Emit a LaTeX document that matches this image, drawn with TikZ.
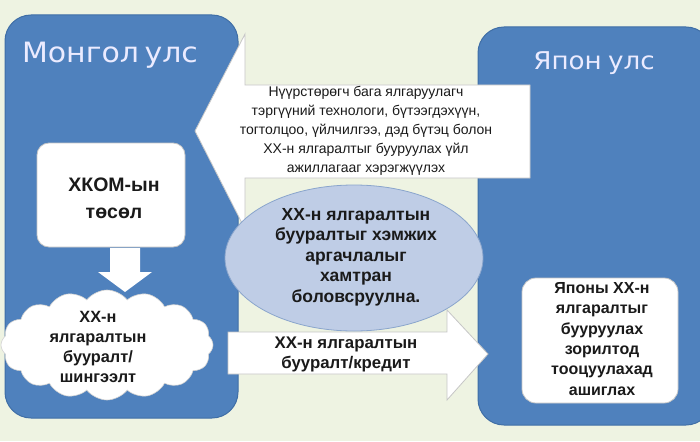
\documentclass[tikz,border=0pt]{standalone}
\usepackage{fontspec}
\setmainfont{Liberation Sans}
\newfontfamily\titlefont[FakeStretch=1.07]{DejaVu Sans}
\usetikzlibrary{shapes.symbols,shapes.geometric}
\definecolor{bgc}{HTML}{EEF3E2}
\definecolor{blu}{HTML}{4F81BD}
\definecolor{bluedge}{HTML}{3F6EA6}
\definecolor{ellf}{HTML}{BFCDE6}
\definecolor{elld}{HTML}{8AA5CC}
\definecolor{txt}{HTML}{1A1A1A}
\tikzset{
  country/.style={fill=blu, draw=bluedge, line width=1pt, rounded corners=26pt},
  whiteshape/.style={fill=white, draw=gray!45, line width=0.8pt},
  title/.style={text=white!92!blue, inner sep=0pt},
  plain/.style={align=center, text=txt, font=\fontsize{14}{19}\selectfont},
  boldtxt/.style={align=center, text=txt, inner sep=0pt},
}
\begin{document}
\begin{tikzpicture}[x=1pt,y=-1pt]
\useasboundingbox (0,0) rectangle (700,441);
\fill[bgc] (0,0) rectangle (700,441);
% countries
\draw[country] (5,15) rectangle (238,418);
\draw[country] (478,27) rectangle (712,425);
\node[title, font=\titlefont\fontsize{28}{32}\selectfont] (mn) at (110,55) {Монгол\hspace{0.2em}улс};
\node[title, font=\titlefont\fontsize{24.5}{30}\selectfont] (jp) at (594,63) {Япон\hspace{0.25em}улс};
% big left arrow
\draw[whiteshape, line join=miter] (530,85) -- (245,85) -- (245,34) -- (195,131) -- (245,229) -- (245,178) -- (530,178) -- cycle;
\node[plain] (tech) at (366,131) {Нүүрстөрөгч бага ялгаруулагч\\тэргүүний технологи, бүтээгдэхүүн,\\тогтолцоо, үйлчилгээ, дэд бүтэц болон\\ХХ-н ялгаралтыг бууруулах үйл\\ажиллагааг хэрэгжүүлэх};
% bottom right arrow
\draw[whiteshape, line join=miter] (228,332) -- (447,332) -- (447,310) -- (488,354) -- (447,400) -- (447,374) -- (228,374) -- cycle;
\node[boldtxt, font=\bfseries\fontsize{16.8}{20}\selectfont] (credit) at (346,354) {ХХ-н ялгаралтын\\бууралт/кредит};
% ellipse
\node[ellipse, fill=ellf, draw=elld, line width=0.8pt, minimum width=258pt, minimum height=146pt] (ell) at (354,258) {};
\node[boldtxt, font=\bfseries\fontsize{17.5}{20.5}\selectfont] (elltxt) at (356,257) {ХХ-н ялгаралтын\\бууралтыг хэмжих\\аргачлалыг\\хамтран\\боловсруулна.};
% XKOM box
\draw[whiteshape, rounded corners=12pt] (37,143) rectangle (185,247);
\node[boldtxt, font=\bfseries\fontsize{19.5}{27}\selectfont] (xkom) at (114,198) {ХКОМ-ын\\төсөл};
% down arrow
\draw[whiteshape, draw=none, line join=miter] (110,248) -- (140,248) -- (140,272) -- (152,272) -- (125,292) -- (98,272) -- (110,272) -- cycle;
% cloud
\node[cloud, cloud puffs=16, cloud puff arc=105, aspect=2.0, fill=white, draw=gray!35, line width=0.6pt, minimum width=212pt, minimum height=110pt] (cl) at (107,345) {};
\node[boldtxt, font=\bfseries\fontsize{16.3}{20}\selectfont] (cltxt) at (98,347) {ХХ-н\\ялгаралтын\\бууралт/\\шингээлт};
% Japan box
\draw[whiteshape, rounded corners=14pt] (522,278) rectangle (678,403);
\node[boldtxt, font=\bfseries\fontsize{16}{20.3}\selectfont] (jptxt) at (602,339) {Японы ХХ-н\\ялгаралтыг\\бууруулах\\зорилтод\\тооцуулахад\\ашиглах};
\end{tikzpicture}
\end{document}
